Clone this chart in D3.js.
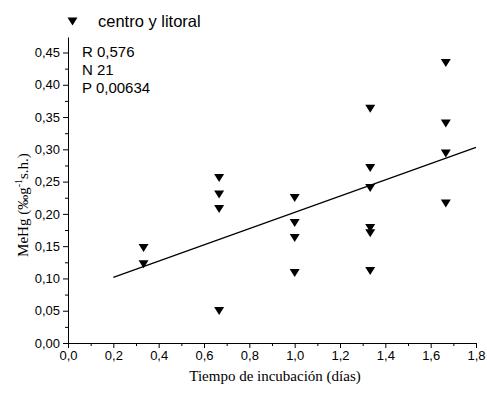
<!DOCTYPE html>
<html>
<head>
<meta charset="utf-8">
<script src="https://cdn.jsdelivr.net/npm/d3@7"></script>
<style>
  html, body { margin: 0; padding: 0; background: #fff; }
  svg { display: block; }
</style>
</head>
<body>
<svg id="chart" width="487" height="393"></svg>
<script>
// ---- data ----
const timeDays = [0.3333, 0.3333,
                  0.6667, 0.6667, 0.6667, 0.6667,
                  1.0, 1.0, 1.0, 1.0,
                  1.3333, 1.3333, 1.3333, 1.3333, 1.3333, 1.3333,
                  1.6667, 1.6667, 1.6667, 1.6667];
const mehg = [0.147, 0.122,
              0.2555, 0.230, 0.2075, 0.0496,
              0.2245, 0.186, 0.1626, 0.1084,
              0.363, 0.271, 0.240, 0.178, 0.170, 0.1115,
              0.4336, 0.340, 0.2935, 0.216];
const fitX = [0.2, 1.8];
const fitY = [0.1017, 0.303];
const xTicks = [0, 0.2, 0.4, 0.6, 0.8, 1.0, 1.2, 1.4, 1.6, 1.8];
const yTicks = [0, 0.05, 0.10, 0.15, 0.20, 0.25, 0.30, 0.35, 0.40, 0.45];
const statsLines = ["R 0,576", "N 21", "P 0,00634"];
const legendLabel = "centro y litoral";
const xTitle = "Tiempo de incubación (días)";

const svg = d3.select("#chart");
const x = d3.scaleLinear().domain([0, 1.8]).range([68, 476]);
const y = d3.scaleLinear().domain([0, 0.474]).range([343, 37]);
const fmt = d => d3.format(".1f")(d).replace(".", ",");
const fmtY = d => d3.format(".2f")(d).replace(".", ",");

const sans = "'Liberation Sans', Arial, sans-serif";
const serif = "'Liberation Serif', 'Times New Roman', serif";

// minor ticks
const xMinor = d3.range(0.1, 1.8, 0.2);
const yMinor = d3.range(0.025, 0.474, 0.05);

svg.append("g").attr("transform", `translate(0,${y(0)})`)
  .call(d3.axisBottom(x).tickValues(xTicks).tickFormat(fmt).tickSize(5).tickSizeOuter(0).tickPadding(3));
svg.append("g").attr("transform", `translate(0,${y(0)})`)
  .call(d3.axisBottom(x).tickValues(xMinor).tickFormat("").tickSize(3).tickSizeOuter(0))
  .select(".domain").remove();
svg.append("g").attr("transform", `translate(${x(0)},0)`)
  .call(d3.axisLeft(y).tickValues(yTicks).tickFormat(fmtY).tickSize(5).tickSizeOuter(0).tickPadding(3));
svg.append("g").attr("transform", `translate(${x(0)},0)`)
  .call(d3.axisLeft(y).tickValues(yMinor).tickFormat("").tickSize(3).tickSizeOuter(0))
  .select(".domain").remove();

svg.selectAll(".tick text").attr("font-family", sans).attr("font-size", 13).attr("fill", "#000");
svg.selectAll(".domain, .tick line").attr("stroke", "#000").attr("stroke-width", 1);

// fit line
svg.append("line")
  .attr("x1", x(fitX[0])).attr("y1", y(fitY[0]))
  .attr("x2", x(fitX[1])).attr("y2", y(fitY[1]))
  .attr("stroke", "#000").attr("stroke-width", 1.2);

// markers (downward triangles)
const tri = "M-5,-4L5,-4L0,4Z";
svg.append("g").selectAll("path").data(timeDays.map((t, i) => [t, mehg[i]]))
  .join("path")
  .attr("d", tri)
  .attr("transform", d => `translate(${x(d[0])},${y(d[1])})`)
  .attr("fill", "#000");

// legend
svg.append("path").attr("d", tri).attr("transform", "translate(72.5,21.5)").attr("fill", "#000");
svg.append("text").attr("x", 98).attr("y", 26.5).attr("font-family", sans).attr("font-size", 16.5)
  .attr("fill", "#000").text(legendLabel);

// stats
svg.append("g").selectAll("text").data(statsLines).join("text")
  .attr("x", 82).attr("y", (d, i) => 57 + i * 18)
  .attr("font-family", sans).attr("font-size", 15).attr("fill", "#000")
  .text(d => d);

// x title
svg.append("text").attr("x", 275).attr("y", 381).attr("text-anchor", "middle")
  .attr("font-family", serif).attr("font-size", 15).attr("fill", "#000").text(xTitle);

// y title
const yt = svg.append("text").attr("transform", "translate(28,205) rotate(-90)")
  .attr("text-anchor", "middle").attr("font-family", serif).attr("font-size", 15).attr("fill", "#000");
yt.append("tspan").text("MeHg (‰g");
yt.append("tspan").attr("font-size", 10).attr("dy", -6).text("-1");
yt.append("tspan").attr("dy", 6).text("s.h.)");
</script>
</body>
</html>
